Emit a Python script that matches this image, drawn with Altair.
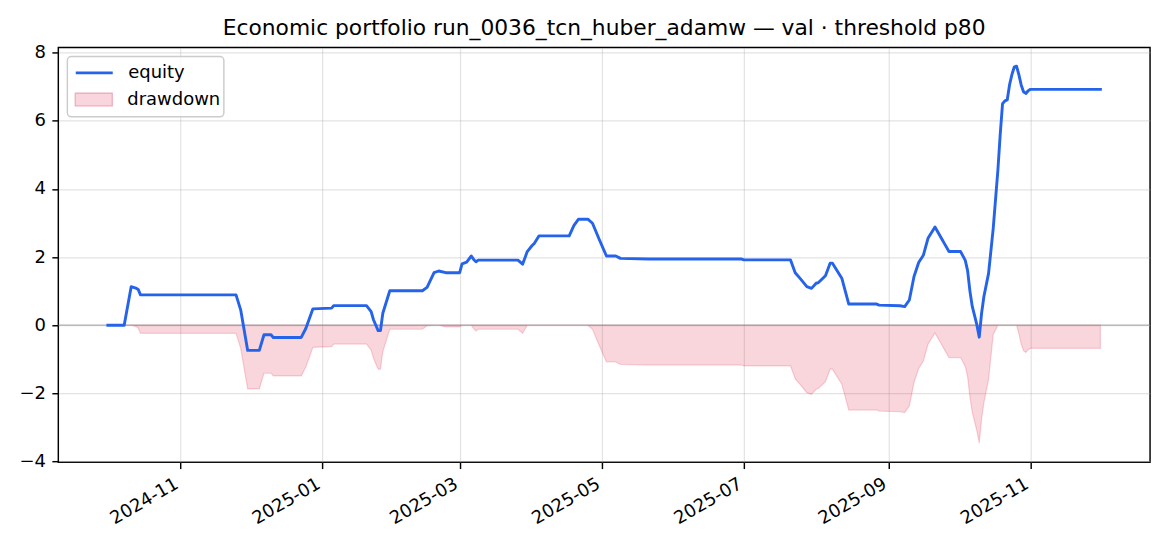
import altair as alt
import pandas as pd

dates = [
    "2024-10-01", "2024-10-08", "2024-10-11", "2024-10-13", "2024-10-14", "2024-10-15",
    "2024-11-25", "2024-11-27", "2024-11-30", "2024-12-05", "2024-12-07", "2024-12-10",
    "2024-12-11", "2024-12-23", "2024-12-25", "2024-12-28", "2025-01-05", "2025-01-06",
    "2025-01-20", "2025-01-22", "2025-01-23", "2025-01-25", "2025-01-26", "2025-01-27",
    "2025-01-30", "2025-02-13", "2025-02-15", "2025-02-18", "2025-02-20", "2025-02-23",
    "2025-03-01", "2025-03-02", "2025-03-04", "2025-03-06", "2025-03-07", "2025-03-08",
    "2025-03-09", "2025-03-26", "2025-03-28", "2025-03-30", "2025-04-01", "2025-04-02",
    "2025-04-04", "2025-04-17", "2025-04-19", "2025-04-21", "2025-04-25", "2025-04-27",
    "2025-04-30", "2025-05-03", "2025-05-07", "2025-05-09", "2025-05-21", "2025-06-30",
    "2025-07-01", "2025-07-21", "2025-07-23", "2025-07-25", "2025-07-28", "2025-07-30",
    "2025-08-01", "2025-08-02", "2025-08-05", "2025-08-07", "2025-08-08", "2025-08-12",
    "2025-08-15", "2025-08-27", "2025-08-28", "2025-09-06", "2025-09-08", "2025-09-10",
    "2025-09-12", "2025-09-14", "2025-09-16", "2025-09-18", "2025-09-21", "2025-09-24",
    "2025-09-25", "2025-09-27", "2025-10-02", "2025-10-04", "2025-10-05", "2025-10-06",
    "2025-10-07", "2025-10-08", "2025-10-09", "2025-10-10", "2025-10-11", "2025-10-12",
    "2025-10-14", "2025-10-16", "2025-10-18", "2025-10-19", "2025-10-20", "2025-10-21",
    "2025-10-22", "2025-10-23", "2025-10-24", "2025-10-25", "2025-10-26", "2025-10-27",
    "2025-10-28", "2025-10-29", "2025-10-30", "2025-10-31", "2025-11-01", "2025-12-01",
]
equity = [
    0.00, 0.00, 1.13, 1.09, 1.05, 0.89,
    0.89, 0.45, -0.74, -0.74, -0.28, -0.28,
    -0.36, -0.36, -0.09, 0.48, 0.50, 0.575,
    0.575, 0.40, 0.16, -0.16, -0.16, 0.35,
    1.01, 1.01, 1.11, 1.54, 1.59, 1.54,
    1.54, 1.80, 1.85, 2.03, 1.93, 1.86,
    1.91, 1.91, 1.79, 2.16, 2.33, 2.40,
    2.62, 2.62, 2.92, 3.11, 3.11, 2.99,
    2.50, 2.03, 2.03, 1.96, 1.94, 1.94,
    1.915, 1.915, 1.54, 1.38, 1.13, 1.08,
    1.23, 1.25, 1.45, 1.82, 1.82, 1.38,
    0.62, 0.62, 0.59, 0.57, 0.545, 0.74,
    1.43, 1.84, 2.05, 2.55, 2.88, 2.52,
    2.40, 2.16, 2.16, 1.90, 1.60, 1.00,
    0.55, 0.28, 0.00, -0.35, 0.35, 0.84,
    1.52, 2.84, 4.55, 5.60, 6.50, 6.58,
    6.61, 7.05, 7.35, 7.57, 7.60, 7.35,
    7.05, 6.85, 6.80, 6.88, 6.92, 6.92,
]
tick_months = [(2024, 11), (2025, 1), (2025, 3), (2025, 5), (2025, 7), (2025, 9), (2025, 11)]
y_ticks = [-4, -2, 0, 2, 4, 6, 8]
title_text = "Economic portfolio run_0036_tcn_huber_adamw \u2014 val \u00b7 threshold p80"

df = pd.DataFrame({"date": dates, "equity": equity})

FONT = "DejaVu Sans"
BLUE = "#2563eb"
CRIMSON = "#dc143c"

x_enc = alt.X(
    "date:T",
    scale=alt.Scale(
        type="utc",
        domain=[
            alt.DateTime(year=2024, month=9, date=9, hours=17, utc=True),
            alt.DateTime(year=2025, month=12, date=22, hours=7, utc=True),
        ],
        nice=False,
    ),
    axis=alt.Axis(
        title=None,
        values=[alt.DateTime(year=y, month=m, date=1, utc=True) for y, m in tick_months],
        format="%Y-%m",
        labelAngle=330,
        labelAlign="right",
        labelBaseline="top",
        labelPadding=6,
        labelOffset=-8,
        labelOverlap=False,
        labelFlush=False,
    ),
)
y_scale = alt.Scale(domain=[-4.02, 8.15], nice=False, zero=False)
y_axis = alt.Axis(
    title=None,
    values=y_ticks,
    labelExpr="datum.value < 0 ? '\u2212' + format(-datum.value, 'd') : format(datum.value, 'd')",
    labelPadding=6.4,
)

base = alt.Chart(df)

area = (
    base.transform_window(peak="max(equity)", frame=[None, 0], sort=[alt.SortField("date", order="ascending")])
    .transform_calculate(dd="datum.equity - datum.peak")
    .mark_area(color=CRIMSON, fillOpacity=0.18, stroke=CRIMSON, strokeOpacity=0.18, strokeWidth=1.2)
    .encode(x=x_enc, y=alt.Y("dd:Q", scale=y_scale, axis=y_axis), y2=alt.datum(0))
)

zero = (
    alt.Chart(pd.DataFrame({"z": [0]}))
    .mark_rule(color="gray", strokeWidth=1.2, opacity=0.6)
    .encode(y=alt.Y("z:Q", scale=y_scale, axis=y_axis))
)

line = (
    base.transform_calculate(series="'equity'")
    .mark_line(strokeWidth=2.9, strokeJoin="round", strokeCap="square")
    .encode(
        x=x_enc,
        y=alt.Y("equity:Q", scale=y_scale, axis=y_axis),
        stroke=alt.Stroke(
            "series:N",
            scale=alt.Scale(domain=["equity"], range=[BLUE]),
            legend=alt.Legend(
                title=None, orient="none", legendX=16, legendY=5.5,
                symbolType="stroke", symbolSize=1369, symbolStrokeWidth=2.9,
                labelFont=FONT, labelFontSize=18, labelColor="black",
                labelOffset=14, padding=0,
            ),
        ),
    )
)

legend_box = (
    alt.Chart(pd.DataFrame({"a": [0]}))
    .mark_rect(fill="white", fillOpacity=0.8, stroke="#cccccc", strokeWidth=1.45, cornerRadius=4)
    .encode(x=alt.value(9.1), x2=alt.value(165.7), y=alt.value(9.1), y2=alt.value(69.4))
)

dd_legend = (
    alt.Chart(pd.DataFrame({"n": ["drawdown"]}))
    .transform_filter("false")
    .mark_point(filled=True, shape="square")
    .encode(
        fill=alt.Fill(
            "n:N",
            scale=alt.Scale(domain=["drawdown"], range=["#f9d6dd"]),
            legend=alt.Legend(
                title=None, orient="none", legendX=16, legendY=32.7,
                symbolType="M-1,-0.343H1V0.343H-1Z", symbolSize=1369,
                symbolStrokeColor="#f1adbb", symbolStrokeWidth=1.3, symbolOpacity=1,
                labelFont=FONT, labelFontSize=18, labelColor="black",
                labelOffset=14, padding=0,
            ),
        )
    )
)

chart = (
    alt.layer(area, zero, line, legend_box, dd_legend)
    .resolve_scale(fill="independent", stroke="independent")
    .properties(
        width=1092.4,
        height=415,
        padding={"left": 50.3, "top": 39.3, "right": 12, "bottom": 70},
        autosize=alt.AutoSizeParams(type="none"),
        title=alt.TitleParams(
            title_text, font=FONT, fontSize=21.8, fontWeight="normal", color="black",
            anchor="middle", offset=4, frame="group",
        ),
    )
    .configure(background="white")
    .configure_view(stroke="black", strokeWidth=1.45)
    .configure_axis(
        labelFont=FONT, labelFontSize=18, labelColor="black",
        tickColor="black", tickWidth=1.45, tickSize=6.4,
        gridColor="#b0b0b0", gridOpacity=0.35, gridWidth=1.2,
        domain=False,
    )
)

chart.save("out.html", embed_options={"renderer": "svg", "actions": False})
